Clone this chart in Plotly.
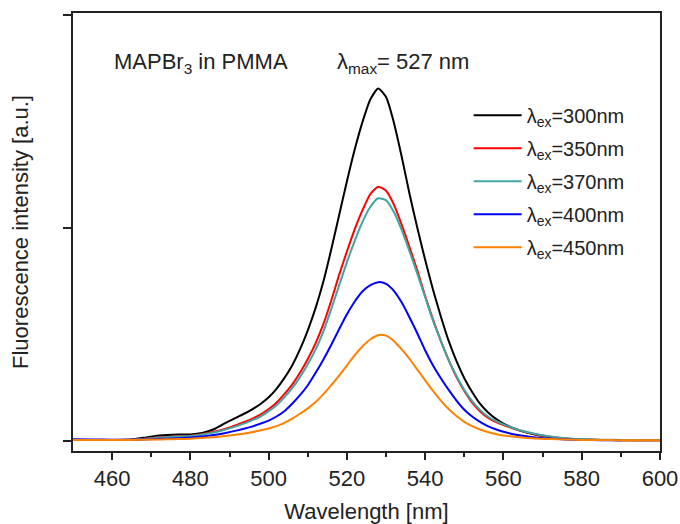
import plotly.graph_objects as go

wavelength = [450, 455, 460, 465, 468, 471, 474, 477, 480, 483, 486, 489, 492, 495, 498,
              500, 502, 504, 506, 508, 510, 512, 514, 516, 518, 520, 522, 524, 526, 528, 530,
              532, 534, 536, 538, 540, 542, 544, 546, 548, 550, 552, 554, 556, 558, 560,
              564, 568, 572, 576, 580, 585, 590, 595, 600]

ex300 = [0.005, 0.005, 0.005, 0.007, 0.015, 0.024, 0.028, 0.030, 0.031, 0.038, 0.055, 0.085, 0.112, 0.140, 0.175,
         0.205, 0.245, 0.295, 0.355, 0.430, 0.520, 0.625, 0.750, 0.900, 1.060, 1.220, 1.370, 1.500, 1.605, 1.656, 1.615,
         1.495, 1.335, 1.160, 1.000, 0.850, 0.710, 0.585, 0.470, 0.375, 0.295, 0.230, 0.175, 0.135, 0.105, 0.082,
         0.050, 0.030, 0.018, 0.011, 0.007, 0.005, 0.004, 0.003, 0.003]
ex350 = [0.005, 0.005, 0.005, 0.006, 0.010, 0.015, 0.018, 0.021, 0.025, 0.032, 0.043, 0.058, 0.077, 0.098, 0.125,
         0.150, 0.180, 0.220, 0.265, 0.320, 0.385, 0.460, 0.550, 0.660, 0.780, 0.890, 0.995, 1.085, 1.160, 1.194, 1.175,
         1.110, 1.015, 0.910, 0.800, 0.680, 0.570, 0.470, 0.380, 0.300, 0.235, 0.180, 0.140, 0.110, 0.090, 0.075,
         0.050, 0.032, 0.020, 0.012, 0.008, 0.005, 0.004, 0.004, 0.004]
ex370 = [0.005, 0.005, 0.005, 0.006, 0.009, 0.014, 0.017, 0.020, 0.023, 0.030, 0.040, 0.054, 0.071, 0.091, 0.116,
         0.140, 0.168, 0.205, 0.248, 0.300, 0.360, 0.430, 0.515, 0.620, 0.730, 0.840, 0.940, 1.030, 1.100, 1.140, 1.130,
         1.075, 0.990, 0.890, 0.785, 0.675, 0.565, 0.470, 0.380, 0.305, 0.240, 0.187, 0.146, 0.115, 0.094, 0.078,
         0.052, 0.034, 0.021, 0.013, 0.009, 0.006, 0.005, 0.004, 0.004]
ex400 = [0.008, 0.007, 0.006, 0.006, 0.007, 0.009, 0.011, 0.013, 0.016, 0.021, 0.028, 0.038, 0.050, 0.064, 0.082,
         0.096, 0.115, 0.140, 0.175, 0.215, 0.262, 0.320, 0.383, 0.452, 0.525, 0.595, 0.655, 0.703, 0.732, 0.746, 0.738,
         0.705, 0.650, 0.580, 0.505, 0.425, 0.355, 0.295, 0.240, 0.190, 0.147, 0.115, 0.090, 0.070, 0.055, 0.043,
         0.027, 0.017, 0.011, 0.007, 0.005, 0.004, 0.003, None, None]
ex450 = [0.005, 0.005, 0.005, 0.005, 0.006, 0.007, 0.008, 0.009, 0.011, 0.014, 0.018, 0.023, 0.030, 0.039, 0.050,
         0.059, 0.070, 0.085, 0.105, 0.128, 0.153, 0.183, 0.220, 0.262, 0.307, 0.355, 0.403, 0.445, 0.478, 0.497, 0.495,
         0.470, 0.430, 0.385, 0.335, 0.285, 0.235, 0.190, 0.150, 0.117, 0.090, 0.070, 0.054, 0.042, 0.033, 0.026,
         0.018, 0.012, 0.009, 0.007, 0.005, 0.005, 0.004, 0.004, 0.004]

series = [
    ("λ<sub>ex</sub>=300nm", ex300, "#000000"),
    ("λ<sub>ex</sub>=350nm", ex350, "#ff0000"),
    ("λ<sub>ex</sub>=370nm", ex370, "#3fa6a0"),
    ("λ<sub>ex</sub>=400nm", ex400, "#0000ff"),
    ("λ<sub>ex</sub>=450nm", ex450, "#ff8000"),
]

FONT = "Arial, Liberation Sans, sans-serif"
TXT = "#222222"

fig = go.Figure()
for name, vals, color in series:
    fig.add_trace(go.Scatter(x=wavelength, y=vals, name=name, legendgroup=name, mode="lines",
                             line=dict(color=color, width=2, shape="spline", smoothing=0.6),
                             connectgaps=False))

fig.update_layout(
    width=680, height=524,
    margin=dict(l=73, r=20, t=13, b=73),
    paper_bgcolor="white", plot_bgcolor="white",
    font=dict(family=FONT, size=20, color=TXT),
    showlegend=True,
    legend=dict(x=0.674, y=0.811, xanchor="left", yanchor="top",
                bgcolor="rgba(0,0,0,0)", font=dict(family=FONT, size=20, color=TXT),
                tracegroupgap=4, itemwidth=48),
    xaxis=dict(range=[450, 600], tickmode="array", tickvals=[460, 480, 500, 520, 540, 560, 580, 600],
               ticks="outside", ticklen=7, tickwidth=1.5, tickcolor=TXT, automargin=False,
               minor=dict(tickvals=[470, 490, 510, 530, 550, 570, 590], ticks="outside", ticklen=4,
                          tickcolor=TXT, tickwidth=1.5),
               showline=True, linecolor=TXT, linewidth=2, mirror=True,
               showgrid=False, zeroline=False,
               tickfont=dict(family=FONT, size=22, color=TXT),
               title=dict(text="Wavelength [nm]", font=dict(family=FONT, size=22, color=TXT), standoff=15)),
    yaxis=dict(range=[-0.047, 2.01], tickmode="array", tickvals=[0, 1, 2], showticklabels=False,
               ticks="outside", ticklen=8, tickwidth=1.5, tickcolor=TXT, automargin=False,
               showline=True, linecolor=TXT, linewidth=2, mirror=True,
               showgrid=False, zeroline=False,
               title=dict(text="Fluorescence intensity [a.u.]", font=dict(family=FONT, size=22, color=TXT),
                          standoff=28)),
)

fig.add_annotation(x=0.066, y=0.886, xref="paper", yref="paper", xanchor="left", yanchor="middle",
                   text="MAPBr<sub>3</sub> in PMMA", showarrow=False,
                   font=dict(family=FONT, size=22, color=TXT))
fig.add_annotation(x=0.446, y=0.886, xref="paper", yref="paper", xanchor="left", yanchor="middle",
                   text="λ<sub>max</sub>= 527 nm", showarrow=False,
                   font=dict(family=FONT, size=22, color=TXT))

fig.write_html("out.html")
